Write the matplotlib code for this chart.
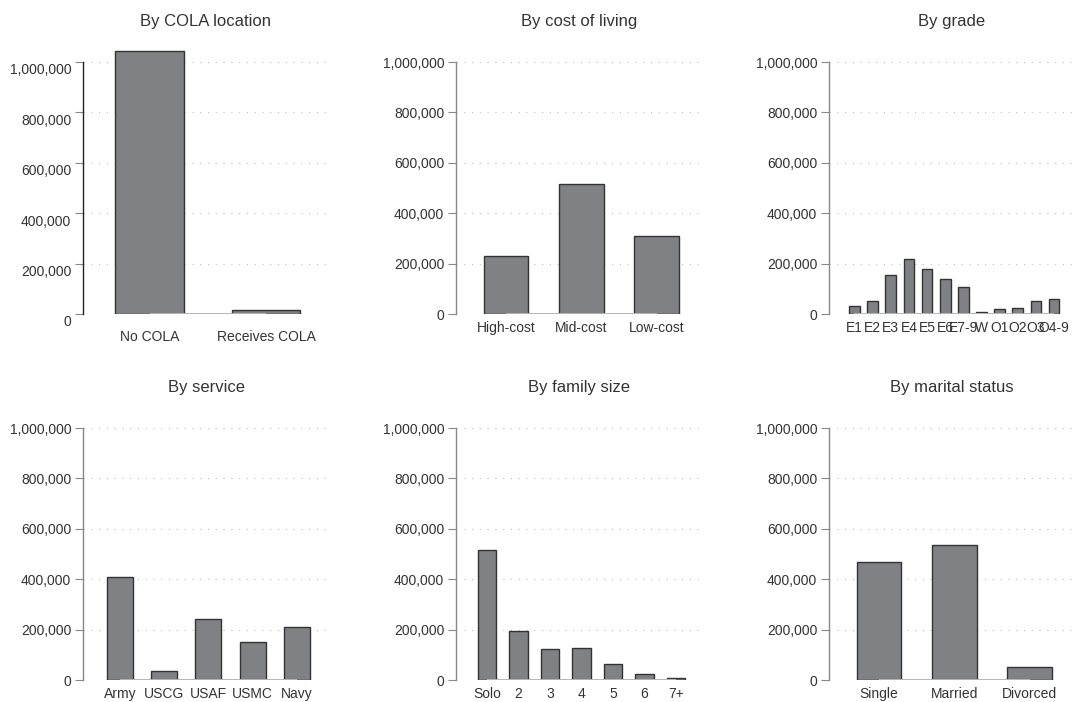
import numpy as np
import matplotlib
matplotlib.use("Agg")
import matplotlib.pyplot as plt
from matplotlib.ticker import FuncFormatter
from matplotlib.transforms import ScaledTranslation

plt.rcParams['font.family'] = ['Liberation Sans', 'DejaVu Sans']

cola_labels = ["No COLA", "Receives COLA"]
cola_counts = [1045000, 15000]

cost_labels = ["High-cost", "Mid-cost", "Low-cost"]
cost_counts = [231000, 516000, 310000]

grade_labels = ["E1", "E2", "E3", "E4", "E5", "E6", "E7-9", "W", "O1", "O2", "O3", "O4-9"]
grade_counts = [32000, 50000, 156000, 217000, 177000, 140000, 106000, 6000, 18000, 22000, 50000, 58000]

service_labels = ["Army", "USCG", "USAF", "USMC", "Navy"]
service_counts = [410000, 34000, 243000, 150000, 209000]

family_labels = ["Solo", "2", "3", "4", "5", "6", "7+"]
family_counts = [516000, 194000, 124000, 128000, 63000, 22000, 9000]

marital_labels = ["Single", "Married", "Divorced"]
marital_counts = [470000, 537000, 52000]

yticks = [0, 200000, 400000, 600000, 800000, 1000000]

BAR = "#808184"
EDGE = "#333333"
TEXT = "#333333"
GRID = "#bdbdbd"

W, H = 1075, 702
fig = plt.figure(figsize=(W / 100, H / 100), dpi=100)

YMAX = 1.1e6
PX_PER_UNIT = 252 / 1e6


def make_axes(x0, zero_px):
    h = YMAX * PX_PER_UNIT
    return fig.add_axes([x0 / W, (H - zero_px) / H, 246 / W, h / H])


def bar_panel(ax, title, labels, counts, xlim, spine_color="#888888"):
    x = np.arange(len(labels))
    ax.bar(x, counts, width=0.59, color=BAR, edgecolor=EDGE, linewidth=1.0, zorder=2)
    # light baseline from first to last category
    ax.plot([x[0], x[-1]], [0, 0], color="#b5b5b5", linewidth=1.4, zorder=3, solid_capstyle="butt")
    ax.set_xlim(*xlim)
    ax.set_ylim(0, YMAX)
    ax.set_xticks(x)
    ax.set_xticklabels(labels)
    ax.set_yticks(yticks)
    ax.yaxis.set_major_formatter(FuncFormatter(lambda v, p: "{:,.0f}".format(v)))
    ax.yaxis.grid(True, color=GRID, linestyle=(0, (1, 6)), linewidth=0.8, zorder=0)
    ax.set_axisbelow(True)
    for s in ["top", "right", "bottom"]:
        ax.spines[s].set_visible(False)
    ax.spines["left"].set_bounds(0, 1000000)
    ax.spines["left"].set_color(spine_color)
    ax.spines["left"].set_linewidth(1.0)
    ax.tick_params(axis="x", length=0, pad=5, labelsize=10, labelcolor=TEXT)
    ax.tick_params(axis="y", length=5.5, width=0.8, color="#888888", pad=3,
                   labelsize=10, labelcolor=TEXT)
    ax.set_title(title, fontsize=12, color=TEXT, pad=8)
    return ax


ax1 = make_axes(83, 314)
bar_panel(ax1, "By COLA location", cola_labels, cola_counts, (-0.573, 1.54), spine_color="#222222")
# the first panel's labels sit a bit lower in the original
for lab in ax1.get_yticklabels():
    lab.set_transform(lab.get_transform() + ScaledTranslation(0, -0.07, fig.dpi_scale_trans))
for lab in ax1.get_xticklabels():
    lab.set_transform(lab.get_transform() + ScaledTranslation(0, -0.09, fig.dpi_scale_trans))

ax2 = make_axes(456, 314)
bar_panel(ax2, "By cost of living", cost_labels, cost_counts, (-0.66, 2.60))

ax3 = make_axes(829, 314)
bar_panel(ax3, "By grade", grade_labels, grade_counts, (-1.40, 12.15))

ax4 = make_axes(83, 680)
bar_panel(ax4, "By service", service_labels, service_counts, (-0.84, 4.73))

ax5 = make_axes(456, 680)
bar_panel(ax5, "By family size", family_labels, family_counts, (-0.98, 6.83))

ax6 = make_axes(829, 680)
bar_panel(ax6, "By marital status", marital_labels, marital_counts, (-0.66, 2.60))

fig.savefig("out.png", dpi=100, facecolor="white")
